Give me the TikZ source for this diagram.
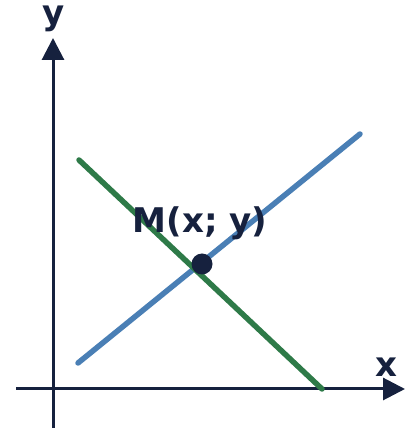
\documentclass[tikz,border=0pt]{standalone}
\usepackage{fontspec}
\setsansfont{DejaVu Sans}
\usetikzlibrary{arrows.meta, positioning}
\definecolor{DarkNavy}{HTML}{16213E}
\definecolor{LineBlue}{HTML}{4A7FB5}
\definecolor{LineGreen}{HTML}{2E7A48}

\begin{document}
\begin{tikzpicture}[
    x=1pt, y=1pt,
    font=\sffamily\bfseries\fontsize{34}{34}\selectfont,
    axis/.style={-{Triangle[length=22pt, width=22pt]}, line width=3pt, DarkNavy},
    graph/.style={line width=5.5pt, line cap=round},
    lbl/.style={text=DarkNavy, inner sep=0pt, anchor=base},
]
\useasboundingbox (0,0) rectangle (416,428);

% --- ejes ---
\coordinate (ybot) at (53,0);
\coordinate (ytop) at (53,390);
\coordinate (xleft) at (16,39);
\coordinate (xright) at (405,39);
\draw[axis] (ybot) -- (ytop);
\draw[axis] (xleft) -- (xright);
\node[lbl] (ylab) at (54,403) {y};
\node[lbl] (xlab) at (386,51) {x};

% --- rectas ---
\coordinate (b1) at (78,65);
\coordinate (b2) at (360,294);
\coordinate (g1) at (79,268);
\coordinate (g2) at (322,39);
\draw[graph, LineBlue] (b1) -- (b2);
\draw[graph, LineGreen] (g1) -- (g2);

% --- punto M ---
\node[circle, fill=DarkNavy, minimum size=21pt, inner sep=0pt] (M) at (202,164) {};
\node[lbl] (mlab) at (200,195) {M(x; y)};

\end{tikzpicture}
\end{document}
